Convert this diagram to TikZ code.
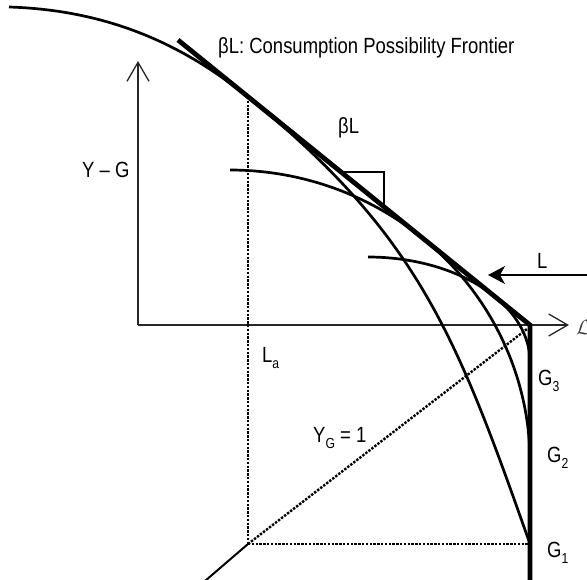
\documentclass[tikz,border=0pt]{standalone}
\usepackage{fontspec}
\setmainfont{Liberation Sans}[FakeStretch=0.84]
\usetikzlibrary{arrows.meta}
\newcommand{\lsub}[1]{\raisebox{-6pt}{\fontsize{14.5}{14.5}\selectfont #1}}
\begin{document}
\begin{tikzpicture}[x=1pt,y=-1pt,
  axis/.style={line width=1.3pt, draw=black!85, -{Straight Barb[length=19pt,width=22pt,line width=1.3pt]}},
  curve/.style={line width=2.7pt},
  thickline/.style={line width=4.8pt, line join=miter},
  dots/.style={line width=2.4pt, dash pattern=on 2.4pt off 1.4pt},
  lbl/.style={font=\fontsize{22}{24}\selectfont, inner sep=0pt, anchor=base west}]
\useasboundingbox (0,0) rectangle (587,579);
% key points
\coordinate (O) at (138,325);
\coordinate (ytip) at (138,61);
\coordinate (xtip) at (569,325);
\coordinate (B0) at (178,40);
\coordinate (C) at (530,325);
\coordinate (Vb) at (530,585);
\coordinate (S) at (9,7);
\coordinate (T) at (248,97);
\coordinate (Q) at (248,544);
\coordinate (G1) at (530,544);
\coordinate (D0) at (205,581);
\coordinate (D1) at (527,329);
\coordinate (Lr) at (590,275);
\coordinate (Ll) at (488,275);
\coordinate (t1) at (343,172);
\coordinate (t2) at (384,172);
\coordinate (t3) at (384,205);
% axes
\draw[axis] (O) -- (ytip);
\draw[axis] (O) -- (xtip);
% dotted lines
\draw[dots] (T) -- (Q);
\draw[dots] (Q) -- (G1);
\draw[dots] (Q) -- (D1);
\draw[line width=2pt] (D0) -- (Q);
% big frontier G1
\draw[curve] (S) .. controls (105,10) and (180.4,42.3) .. (T)
  .. controls (419,235.4) and (457,337) .. (G1);
% G2 frontier
\draw[curve] plot[domain=0:90, samples=90, smooth] ({230+300*sin(\x)},{461.9-291.9*cos(\x)});
% G3 frontier
\draw[curve] plot[domain=0:90, samples=90, smooth] ({368+162*sin(\x)},{361.9-104.9*cos(\x)});
% thick budget line
\draw[thickline] (B0) -- (C) -- (Vb);
% slope triangle
\draw[line width=2.6pt] (t1) -- (t2) -- (t3);
% L arrow
\draw[line width=1.3pt, -{Stealth[length=17pt,width=18pt,inset=5pt]}] (Lr) -- (Ll);
% labels
\node[lbl] (title) at (218,53) {βL: Consumption Possibility Frontier};
\node[lbl] (beta) at (338,133) {βL};
\node[lbl] (yg) at (82,177) {Y – G};
\node[lbl] (La) at (262,362) {L\lsub{a}};
\node[lbl] (YG) at (313,442) {Y\lsub{G} = 1};
\node[lbl] (g3) at (538,385) {G\lsub{3}};
\node[lbl] (g2) at (547,462) {G\lsub{2}};
\node[lbl] (g1) at (547,557) {G\lsub{1}};
\node[lbl] (Llab) at (537,268) {L};
\node[inner sep=0pt, anchor=west, text=black!75, font=\fontsize{22}{24}\selectfont] (calL) at (576,327) {$\mathcal{L}$};
\end{tikzpicture}
\end{document}
